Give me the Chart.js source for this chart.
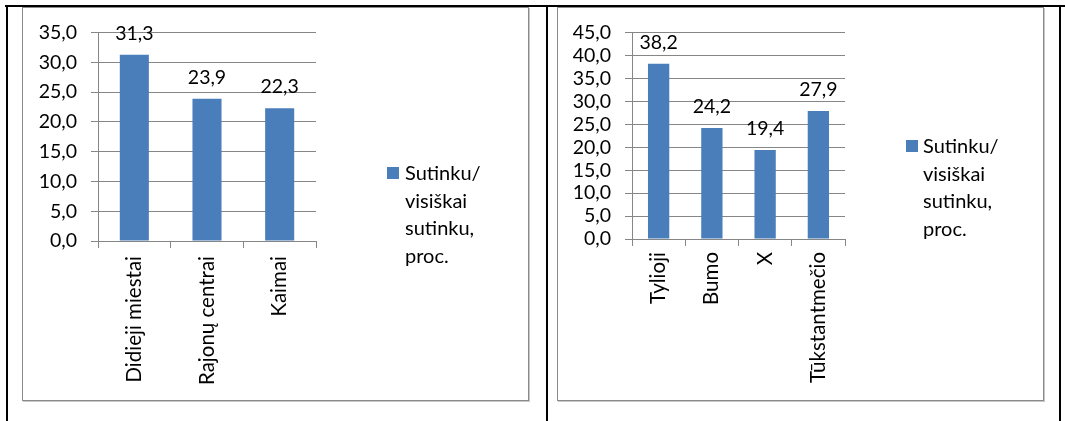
<!DOCTYPE html>
<html><head><meta charset="utf-8">
<script src="https://cdn.jsdelivr.net/npm/chart.js@4/dist/chart.umd.min.js"></script>
<style>
html,body{margin:0;padding:0;background:#fff;width:1065px;height:421px;overflow:hidden;font-family:Lato,sans-serif;}
.line{position:absolute;background:#000;}
.box{position:absolute;border:1.5px solid #8a8a8a;box-sizing:border-box;box-shadow:1px 1px 0 #c8c8c8;}
canvas{position:absolute;}
.legend{position:absolute;font-family:Lato,sans-serif;font-size:20px;line-height:27.7px;color:#000;white-space:nowrap;}
.sq{position:absolute;width:12px;height:12px;background:#4a7ebb;}
</style></head><body>
<div class="line" style="left:5px;top:5px;width:1060px;height:2px;"></div>
<div class="line" style="left:6px;top:5px;width:2px;height:416px;"></div>
<div class="line" style="left:546px;top:5px;width:2px;height:416px;"></div>
<div class="line" style="left:1059px;top:5px;width:2px;height:416px;"></div>

<div class="box" style="left:22px;top:7px;width:507px;height:394px;"></div>
<div class="box" style="left:557px;top:7px;width:487px;height:394px;"></div>

<canvas id="c1" width="505" height="393" style="left:23px;top:7px;"></canvas>
<canvas id="c2" width="485" height="393" style="left:558px;top:7px;"></canvas>

<div class="sq" style="left:387px;top:167px;"></div>
<div class="legend" id="leg1" style="left:405px;top:159px;"></div>
<div class="sq" style="left:906px;top:140px;"></div>
<div class="legend" id="leg2" style="left:923px;top:132px;"></div>

<script>
// ---- data ----
const seriesName = ['Sutinku/', 'visiškai', 'sutinku,', 'proc.'];

const leftCategories = ['Didieji miestai', 'Rajonų centrai', 'Kaimai'];
const leftValues = [31.3, 23.9, 22.3];
const leftYTicks = ['0,0', '5,0', '10,0', '15,0', '20,0', '25,0', '30,0', '35,0'];

const rightCategories = ['Tylioji', 'Bumo', 'X', 'Tūkstantmečio'];
const rightValues = [38.2, 24.2, 19.4, 27.9];
const rightYTicks = ['0,0', '5,0', '10,0', '15,0', '20,0', '25,0', '30,0', '35,0', '40,0', '45,0'];

// ---- drawing ----
const NUMFONT = {family: 'Lato, sans-serif', size: 19.5};
const CATFONT = {family: 'Lato, sans-serif', size: 20.5};
const GRID = '#868686';
const BAR = '#4a7ebb';
const fmt = v => v.toFixed(1).replace('.', ',');

document.getElementById('leg1').innerHTML = seriesName.join('<br>');
document.getElementById('leg2').innerHTML = seriesName.join('<br>');

const valueLabels = {
  id: 'valueLabels',
  afterDatasetsDraw(chart) {
    const ctx = chart.ctx;
    ctx.save();
    ctx.font = '19.5px Lato, sans-serif';
    ctx.fillStyle = '#000';
    ctx.textAlign = 'center';
    ctx.textBaseline = 'alphabetic';
    chart.data.datasets.forEach((ds, i) => {
      chart.getDatasetMeta(i).data.forEach((bar, j) => {
        ctx.fillText(fmt(ds.data[j]), bar.x, bar.y - 15);
      });
    });
    ctx.restore();
  }
};

function makeChart(id, cats, vals, yTicks, g) {
  const yMax = (yTicks.length - 1) * 5;
  return new Chart(document.getElementById(id), {
    type: 'bar',
    data: {
      labels: cats,
      datasets: [{
        label: seriesName.join(' '),
        data: vals,
        backgroundColor: BAR,
        borderWidth: 0,
        barPercentage: 0.4,
        categoryPercentage: 1.0
      }]
    },
    options: {
      responsive: false,
      animation: false,
      devicePixelRatio: 1,
      layout: {padding: {left: 0, top: g.top, right: g.right, bottom: 0}},
      plugins: {legend: {display: false}, tooltip: {enabled: false}},
      scales: {
        x: {
          grid: {display: true, drawOnChartArea: false, drawTicks: true, tickLength: 7, color: GRID, offset: true},
          border: {display: true, color: GRID},
          ticks: {font: CATFONT, color: '#000', minRotation: 90, maxRotation: 90, autoSkip: false, padding: g.xpad},
          afterFit(s) { s.height = g.xh; }
        },
        y: {
          min: 0, max: yMax,
          ticks: {stepSize: 5, autoSkip: false, font: NUMFONT, color: '#000', padding: g.ypad, callback: (v, i) => yTicks[i]},
          grid: {color: GRID, tickLength: 7},
          border: {color: GRID},
          afterFit(s) { s.width = g.yw; }
        }
      }
    },
    plugins: [valueLabels]
  });
}

function draw() {
  makeChart('c1', leftCategories, leftValues, leftYTicks, {top: 25, right: 212, yw: 75, xh: 159, xpad: 8, ypad: 14});
  makeChart('c2', rightCategories, rightValues, rightYTicks, {top: 25, right: 198, yw: 74, xh: 161, xpad: 6, ypad: 14});
}
if (document.fonts && document.fonts.load) {
  Promise.all([document.fonts.load('20px Lato')]).then(draw, draw);
} else { draw(); }
</script>
</body></html>
